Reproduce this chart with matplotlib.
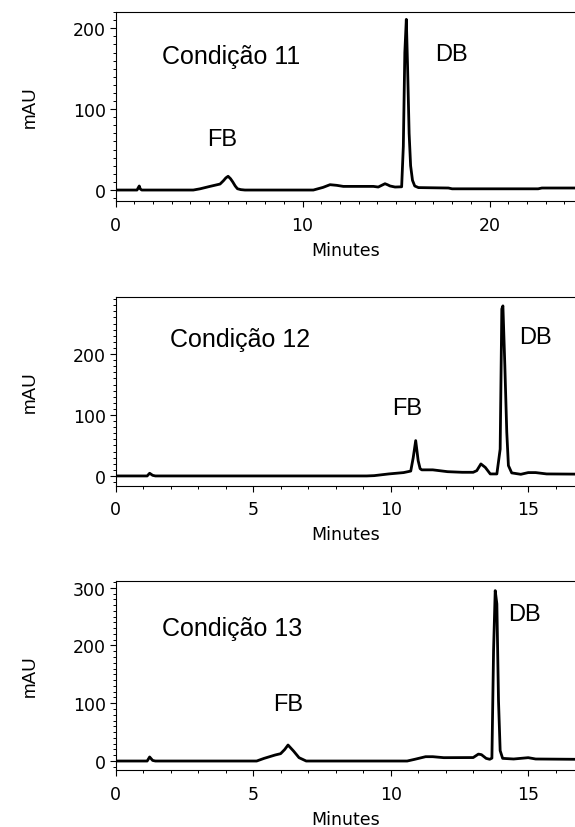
import matplotlib
matplotlib.use("Agg")
import matplotlib.pyplot as plt
from matplotlib.ticker import MultipleLocator

# ---- data (time in minutes, absorbance in mAU) ----
t11 = [0, 1.15, 1.22, 1.27, 1.32, 1.4, 3.6, 4.16, 4.52, 5.05, 5.59, 5.77, 5.9, 6.02,
       6.15, 6.27, 6.4, 6.52, 6.7, 6.92, 10.58, 11.1, 11.47, 11.83, 12.18, 13.79,
       14.05, 14.25, 14.41, 14.55, 14.68, 14.95, 15.3, 15.39, 15.47, 15.55, 15.62,
       15.7, 15.78, 15.88, 16.0, 16.2, 17.8, 18.0, 22.6, 22.8, 24.6]
mau11 = [0, 0, 3, 5, 1.5, 0, 0, 0, 1.5, 4.5, 7.4, 11.5, 15, 17, 14, 10, 5, 1.6, 0.5,
         0, 0, 3.3, 6.6, 5.8, 4.5, 4.5, 3.7, 6, 7.8, 6.5, 5, 3.7, 4, 54, 170, 211,
         150, 70, 30, 12, 5, 3, 2.5, 1.5, 1.5, 2.5, 2.5]

t12 = [0, 1.15, 1.24, 1.35, 1.45, 9.13, 9.4, 9.93, 10.47, 10.73, 10.82, 10.91, 11.0,
       11.07, 11.13, 11.53, 12.07, 12.6, 13.0, 13.13, 13.28, 13.44, 13.62, 13.86,
       13.98, 14.04, 14.08, 14.15, 14.22, 14.28, 14.4, 14.73, 15.0, 15.27, 15.67, 16.7]
mau12 = [0, 0, 4.4, 1, 0, 0, 0.5, 3.3, 5.5, 8, 30, 58, 25, 12, 10, 10, 7, 6, 6, 8.7,
         19.7, 14, 3.3, 3.3, 44, 274, 279, 181, 72, 17, 5, 2.7, 5.5, 5.5, 3.3, 3]

t13 = [0, 1.15, 1.24, 1.35, 1.45, 5.13, 5.4, 5.8, 6.0, 6.15, 6.27, 6.47, 6.67, 6.93,
       10.6, 10.87, 11.27, 11.53, 11.93, 13.0, 13.19, 13.3, 13.47, 13.6, 13.68, 13.74,
       13.8, 13.86, 13.92, 13.98, 14.07, 14.47, 15.0, 15.27, 16.7]
mau13 = [0, 0, 7, 1, 0, 0, 4.6, 10.4, 12.7, 20, 27.7, 17.3, 5.8, 0, 0, 2.9, 7.5, 7.5,
         5.8, 6, 12, 11, 4.6, 3, 5, 191, 295, 272, 104, 18, 4.6, 3.5, 5.8, 3.5, 3]

titles = ["Condição 11", "Condição 12", "Condição 13"]
# label anchor positions (minutes, mAU): title, FB, DB
title_pos = [(6.2, 166), (4.53, 225), (4.24, 230)]
fb_pos = [(5.71, 63), (10.59, 111), (6.29, 98)]
db_pos = [(17.96, 168), (15.27, 228), (14.87, 254)]

xlims = [(0, 24.57), (0, 16.7), (0, 16.7)]
ylims = [(-13.6, 220), (-16, 294), (-15.6, 311.5)]
xmajor = [10, 5, 5]

traces = [(t11, mau11), (t12, mau12), (t13, mau13)]
bottoms = [0.756, 0.4122, 0.0688]

fig = plt.figure(figsize=(5.75, 8.28), dpi=100)
label_font = "Liberation Sans"

for i, (t, y) in enumerate(traces):
    ax = fig.add_axes([0.2009, bottoms[i], 0.7991, 0.2282])
    ax.plot(t, y, color="black", lw=2.0, solid_joinstyle="round")
    ax.set_xlim(*xlims[i])
    ax.set_ylim(*ylims[i])

    ax.spines["right"].set_visible(False)
    for s in ("left", "top", "bottom"):
        ax.spines[s].set_linewidth(0.8)

    ax.xaxis.set_major_locator(MultipleLocator(xmajor[i]))
    ax.xaxis.set_minor_locator(MultipleLocator(1))
    ax.yaxis.set_major_locator(MultipleLocator(100))
    ax.yaxis.set_minor_locator(MultipleLocator(10))
    ax.tick_params(which="major", direction="out", length=4.5, width=0.8,
                   labelsize=12.5, colors="black")
    ax.tick_params(which="minor", direction="out", length=2.5, width=0.7)
    ax.tick_params(axis="x", which="major", pad=6)
    ax.tick_params(axis="y", which="major", pad=2.5)
    ax.tick_params(top=False, right=False, which="both")

    ax.set_xlabel("Minutes", fontsize=12.5, labelpad=5)
    ax.set_ylabel("mAU", fontsize=13.5, family=label_font)
    ax.yaxis.set_label_coords(-0.167, 0.5)

    ax.text(*title_pos[i], titles[i], fontsize=18, family=label_font,
            ha="center", va="center")
    ax.text(*fb_pos[i], "FB", fontsize=17, family=label_font,
            ha="center", va="center")
    ax.text(*db_pos[i], "DB", fontsize=17, family=label_font,
            ha="center", va="center")

fig.savefig("out.png", dpi=100)
